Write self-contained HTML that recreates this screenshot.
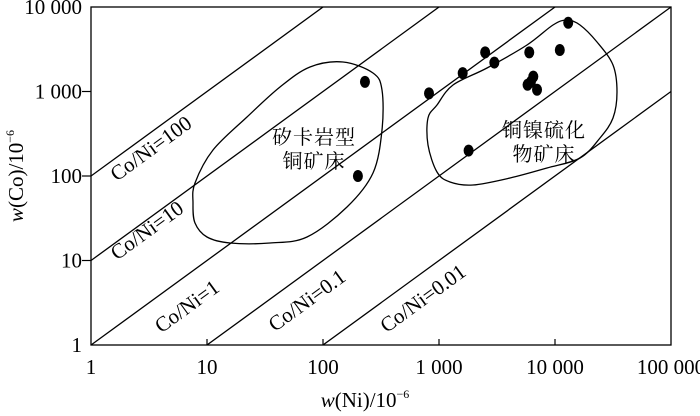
<!DOCTYPE html>
<html><head><meta charset="utf-8"><style>
html,body{margin:0;background:#fff;overflow:hidden;width:700px;height:416px}
svg{display:block;overflow:hidden}
text{font-family:"Liberation Serif","Noto Serif CJK SC",serif;fill:#000}
</style></head><body>
<svg id="chart" width="700" height="416">
<g id="g"></g>
</svg>
<script>
const xTicks=[1,10,100,1000,10000,100000];
const xTickLabels=["1","10","100","1 000","10 000","100 000"];
const yTicks=[1,10,100,1000,10000];
const yTickLabels=["1","10","100","1 000","10 000"];
const ratios=[100,10,1,0.1,0.01];
const ratioLabels=["Co/Ni=100","Co/Ni=10","Co/Ni=1","Co/Ni=0.1","Co/Ni=0.01"];
const niValues=[230,200,820,1600,2500,3000,1800,5800,6000,6500,6200,7000,11000,13000];
const coValues=[1300,100,950,1650,2900,2200,200,1200,2900,1500,1300,1050,3100,6500];
const L=91,R=671,T=7,B=345;
function X(v){return L+Math.log10(v)/5*(R-L);}
function Y(v){return B-Math.log10(v)/4*(B-T);}
const NS="http://www.w3.org/2000/svg";
const g=document.getElementById('g');
function mk(t,a,txt){const e=document.createElementNS(NS,t);for(const k in a)e.setAttribute(k,a[k]);if(txt!==undefined)e.textContent=txt;g.appendChild(e);return e;}
const defs=mk('defs',{});
const cp=document.createElementNS(NS,'clipPath');cp.setAttribute('id','clip');
const cr=document.createElementNS(NS,'rect');cr.setAttribute('x',L);cr.setAttribute('y',T);cr.setAttribute('width',R-L);cr.setAttribute('height',B-T);
cp.appendChild(cr);defs.appendChild(cp);
let f=mk('rect',{x:L,y:T,width:R-L,height:B-T,fill:'none',stroke:'#000','stroke-width':1.3});


ratios.forEach((r,i)=>{
  let l=mk('line',{x1:X(1),y1:Y(r),x2:X(100000),y2:Y(100000*r),stroke:'#000','stroke-width':1.3,'clip-path':'url(#clip)'});
  
  
});
const labPos=[[155,154],[151,236],[191,312],[311,306],[427,304]];
ratioLabels.forEach((s,i)=>{
  let t=mk('text',{x:labPos[i][0],y:labPos[i][1],'font-size':21,'text-anchor':'middle',transform:`rotate(-36 ${labPos[i][0]} ${labPos[i][1]})`},s);
  
  
});
function smooth(pts){
  const n=pts.length;let d=`M${pts[0][0]},${pts[0][1]}`;
  for(let i=0;i<n;i++){
    const p0=pts[(i-1+n)%n],p1=pts[i],p2=pts[(i+1)%n],p3=pts[(i+2)%n];
    const c1=[p1[0]+(p2[0]-p0[0])/6,p1[1]+(p2[1]-p0[1])/6];
    const c2=[p2[0]-(p3[0]-p1[0])/6,p2[1]-(p3[1]-p1[1])/6];
    d+=` C${c1[0]},${c1[1]} ${c2[0]},${c2[1]} ${p2[0]},${p2[1]}`;
  }
  return d+'Z';
}
const skarn=[[195,183],[193,203],[195,223],[207,237],[230,243],[270,243],[307,237],[347,207],[373,173],[382,130],[382,90],[373,73],[343,62],[310,67],[280,87],[247,117],[213,150]];
const sulf=[[567,20],[580,25],[597,42],[613,65],[617,92],[613,118],[600,138],[580,158],[547,168],[510,178],[473,185],[450,182],[437,172],[428,145],[428,118],[437,105],[453,85],[487,68],[527,45],[553,25]];
let p1=mk('path',{d:smooth(skarn),fill:'none',stroke:'#000','stroke-width':1.3});


let p2=mk('path',{d:smooth(sulf),fill:'none',stroke:'#000','stroke-width':1.3});


let a1=mk('text',{x:314,y:144,'font-size':20,'text-anchor':'middle','letter-spacing':1},'矽卡岩型');

let a2=mk('text',{x:314,y:168,'font-size':20,'text-anchor':'middle','letter-spacing':1},'铜矿床');

let a3=mk('text',{x:544,y:137,'font-size':20,'text-anchor':'middle','letter-spacing':1},'铜镍硫化');

let a4=mk('text',{x:544,y:161,'font-size':20,'text-anchor':'middle','letter-spacing':1},'物矿床');

niValues.forEach((n,i)=>{
  let c=mk('ellipse',{cx:X(n),cy:Y(coValues[i]),rx:5,ry:6,fill:'#000'});
  
  
});
xTicks.forEach((v,i)=>{
  if(i>0&&i<xTicks.length-1){let tk=mk('line',{x1:X(v),y1:B,x2:X(v),y2:B-6,stroke:'#000','stroke-width':1.2});
  }
  let t=mk('text',{x:X(v),y:B+29,'font-size':21,'text-anchor':'middle'},xTickLabels[i]);
  
});
yTicks.forEach((v,i)=>{
  if(i>0&&i<yTicks.length-1){let tk=mk('line',{x1:L-9,y1:Y(v),x2:L,y2:Y(v),stroke:'#000','stroke-width':1.2});
  }
  let t=mk('text',{x:L-9,y:Y(v)+7,'font-size':21,'text-anchor':'end'},yTickLabels[i]);
  
});
let xt=mk('text',{x:365,y:407,'font-size':21,'text-anchor':'middle'});
xt.innerHTML='<tspan font-style="italic">w</tspan>(Ni)/10<tspan font-size="12" dy="-9">−6</tspan>';

let yt=mk('text',{x:0,y:0,'font-size':21,'text-anchor':'middle',transform:'translate(23,176) rotate(-90)'});
yt.innerHTML='<tspan font-style="italic">w</tspan>(Co)/10<tspan font-size="12" dy="-9">−6</tspan>';

</script>
</body></html>
